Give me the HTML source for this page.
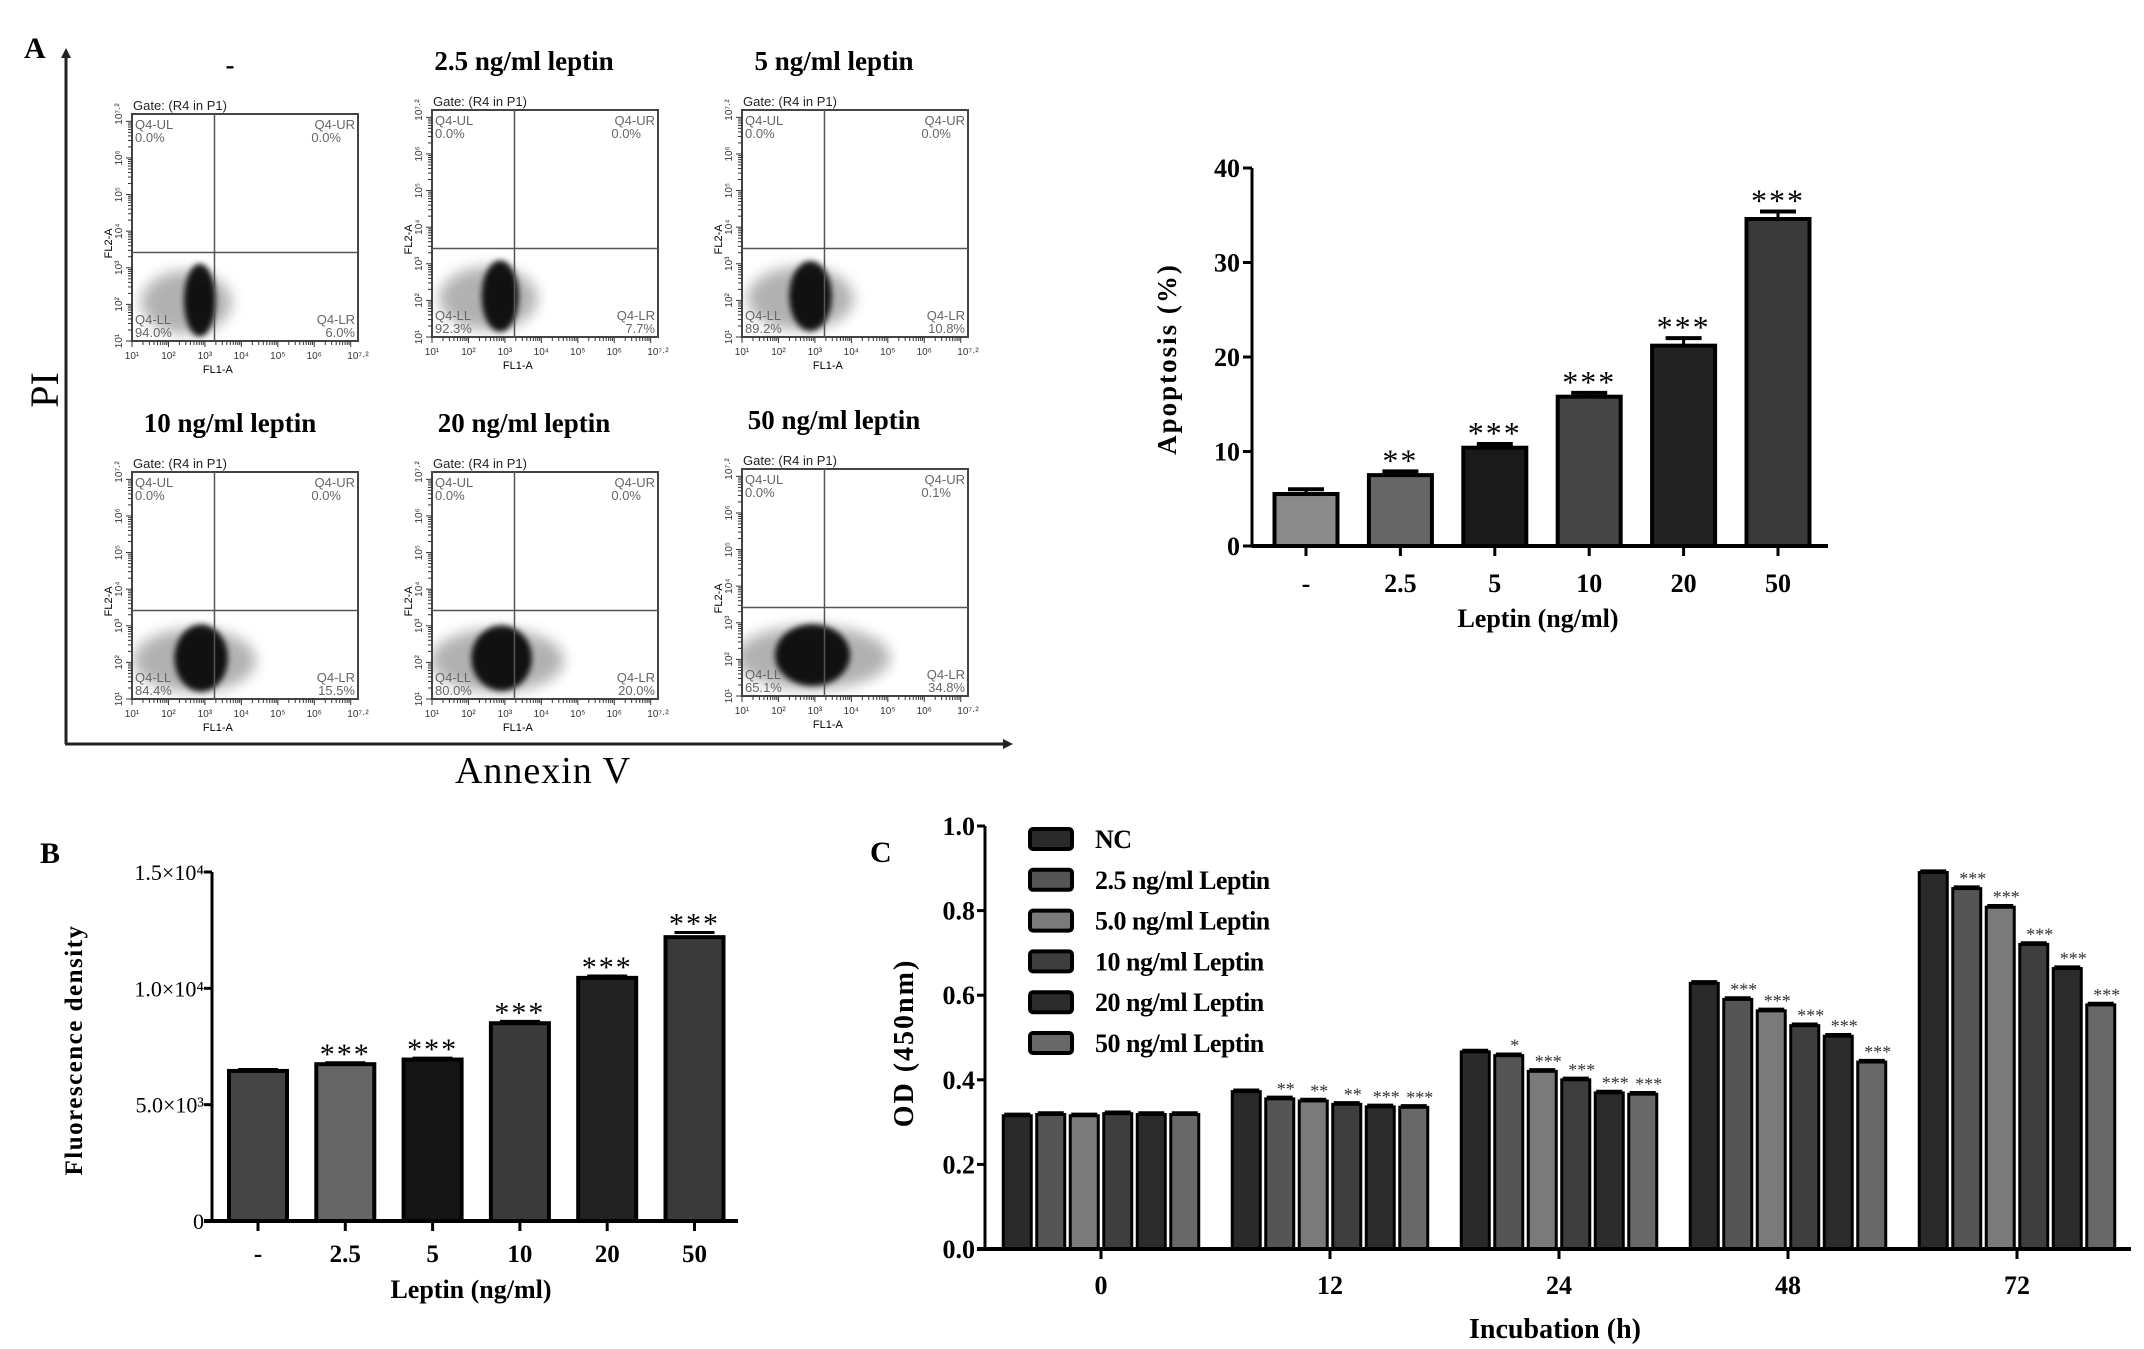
<!DOCTYPE html>
<html><head><meta charset="utf-8"><style>
html,body{margin:0;padding:0;background:#fff;}
svg{display:block;}
text{font-family:"Liberation Serif",serif;}
.sans{font-family:"Liberation Sans",sans-serif;}
</style></head>
<body>
<svg id="fig" xmlns="http://www.w3.org/2000/svg" width="2144" height="1349" viewBox="0 0 2144 1349">
<defs>
<filter id="blur3" x="-50%" y="-50%" width="200%" height="200%"><feGaussianBlur stdDeviation="3"/></filter>
<filter id="blur8" x="-50%" y="-50%" width="200%" height="200%"><feGaussianBlur stdDeviation="7"/></filter>
<marker id="arrowhead" markerWidth="10" markerHeight="10" refX="2" refY="5" orient="auto" markerUnits="userSpaceOnUse"><path d="M0,0 L10,5 L0,10 z" fill="#222"/></marker>
</defs>
</svg>
<script>
// ---------- Panel A (bar) data ----------
const aCats = ['-', '2.5', '5', '10', '20', '50'];
const aVals = [5.5, 7.5, 10.4, 15.8, 21.2, 34.6];
const aErrs = [0.5, 0.4, 0.4, 0.4, 0.8, 0.8];
const aSig = ['', '**', '***', '***', '***', '***'];
const aTicks = [0, 10, 20, 30, 40];
// ---------- Panel B data ----------
const bCats = ['-', '2.5', '5', '10', '20', '50'];
const bVals = [6450, 6740, 6940, 8500, 10450, 12200];
const bErrs = [60, 60, 60, 80, 80, 200];
const bSig = ['', '***', '***', '***', '***', '***'];
const bTicks = [0, 5000, 10000, 15000];
const bTickLabels = ['0', '5.0×10³', '1.0×10⁴', '1.5×10⁴'];
// ---------- Panel C data ----------
const cGroups = ['0', '12', '24', '48', '72'];
const cSeries = ['NC', '2.5 ng/ml Leptin', '5.0 ng/ml Leptin', '10 ng/ml Leptin', '20 ng/ml Leptin', '50 ng/ml Leptin'];
const cNC   = [0.315, 0.372, 0.466, 0.628, 0.890];
const c2_5  = [0.318, 0.355, 0.457, 0.590, 0.852];
const c5_0  = [0.315, 0.350, 0.420, 0.563, 0.808];
const c10   = [0.320, 0.342, 0.400, 0.528, 0.720];
const c20   = [0.318, 0.336, 0.369, 0.503, 0.663];
const c50   = [0.318, 0.335, 0.366, 0.442, 0.577];
const cSig12 = ['', '**', '**', '**', '***', '***'];
const cSig24 = ['', '*', '***', '***', '***', '***'];
const cSig48 = ['', '***', '***', '***', '***', '***'];
const cSig72 = ['', '***', '***', '***', '***', '***'];
const cTicks = [0, 0.2, 0.4, 0.6, 0.8, 1.0];
// ---------- Flow plots ----------
const flowTitles = ['-', '2.5 ng/ml leptin', '5 ng/ml leptin', '10 ng/ml leptin', '20 ng/ml leptin', '50 ng/ml leptin'];
const flowLL = ['94.0%', '92.3%', '89.2%', '84.4%', '80.0%', '65.1%'];
const flowLR = ['6.0%', '7.7%', '10.8%', '15.5%', '20.0%', '34.8%'];
const flowUR = ['0.0%', '0.0%', '0.0%', '0.0%', '0.0%', '0.1%'];
const flowSpread = [0.0, 0.03, 0.06, 0.12, 0.16, 0.24];

const NS = 'http://www.w3.org/2000/svg';
const svg = document.getElementById('fig');
function mk(tag, attrs, parent) {
  const e = document.createElementNS(NS, tag);
  for (const k in attrs) e.setAttribute(k, attrs[k]);
  (parent || svg).appendChild(e);
  return e;
}
function txt(s, attrs, parent) { const t = mk('text', attrs, parent); t.textContent = s; return t; }

// ===== Panel A: flow cytometry =====
let g = mk('g', {});


txt('A', {x: 24, y: 58, 'font-size': 30, 'font-weight': 'bold'}, g);

let ax = mk('line', {x1: 66, y1: 744, x2: 66, y2: 56, stroke: '#222', 'stroke-width': 3, 'marker-end': 'url(#arrowhead)'});


ax = mk('line', {x1: 65, y1: 744, x2: 1005, y2: 744, stroke: '#222', 'stroke-width': 3, 'marker-end': 'url(#arrowhead)'});


let t = txt('PI', {x: 0, y: 0, 'font-size': 40, transform: 'translate(58,390) rotate(-90)', 'text-anchor': 'middle'});


t = txt('Annexin V', {x: 543, y: 783, 'font-size': 38, 'text-anchor': 'middle', 'letter-spacing': 1});



const boxes = [[132,114],[432,110],[742,110],[132,472],[432,472],[742,469]];
const sup = ['¹','²','³','⁴','⁵','⁶','⁷·²'];
for (let i = 0; i < 6; i++) {
  const [x0, y0] = boxes[i];
  const w = 226, h = 227;
  const fg = mk('g', {});
  
  
  const tt = txt(flowTitles[i], {x: x0 + (i % 3 === 0 ? 98 : 92), y: y0 - 40, 'font-size': 27, 'font-weight': 'bold', 'text-anchor': 'middle'}, fg);
  
  
  txt('Gate: (R4 in P1)', {x: x0 + 1, y: y0 - 4, 'font-size': 13, class: 'sans', fill: '#222'}, fg);
  const gy = y0 + h * 0.61, vx = x0 + w * 0.365;
  const sp = flowSpread[i];
  mk('ellipse', {cx: x0 + w * (0.24 + sp * 0.3), cy: y0 + h * 0.83, rx: w * (0.2 + sp * 0.6), ry: h * 0.14, fill: '#000', opacity: 0.3, filter: 'url(#blur8)'}, fg);
  mk('ellipse', {cx: x0 + w * (0.30 + sp * 0.05), cy: y0 + h * 0.82, rx: w * (0.07 + sp * 0.4), ry: h * (0.16 - sp * 0.1), fill: '#000', opacity: 0.9, filter: 'url(#blur3)'}, fg);
  mk('rect', {x: x0 - 12, y: y0 + h, width: w + 30, height: 40, fill: '#fff'}, fg);
  mk('rect', {x: x0 - 40, y: y0, width: 40, height: h + 2, fill: '#fff'}, fg);
  const b = mk('rect', {x: x0, y: y0, width: w, height: h, fill: 'none', stroke: '#444', 'stroke-width': 2}, fg);
  
  
  mk('line', {x1: x0, y1: gy, x2: x0 + w, y2: gy, stroke: '#555', 'stroke-width': 1.5}, fg);
  mk('line', {x1: vx, y1: y0, x2: vx, y2: y0 + h, stroke: '#555', 'stroke-width': 1.5}, fg);
  for (let d = 0; d < 6.2; d++) {
    for (let m = 1; m < 10; m++) {
      const f = (d + Math.log10(m)) / 6.2;
      if (f > 1) break;
      const len = m === 1 ? 6 : 4;
      mk('line', {x1: x0 + f * w, y1: y0 + h, x2: x0 + f * w, y2: y0 + h + len, stroke: '#333', 'stroke-width': 1}, fg);
      mk('line', {x1: x0, y1: y0 + h - f * h, x2: x0 - len, y2: y0 + h - f * h, stroke: '#333', 'stroke-width': 1}, fg);
    }
  }
  for (let k = 0; k < 7; k++) {
    const f = k < 6 ? k / 6.2 : 1;
    txt('10' + sup[k], {x: x0 + f * w, y: y0 + h + 18, 'font-size': 10, class: 'sans', 'text-anchor': 'middle', fill: '#333'}, fg);
    txt('10' + sup[k], {x: 0, y: 0, 'font-size': 10, class: 'sans', 'text-anchor': 'middle', fill: '#333', transform: 'translate(' + (x0 - 10) + ',' + (y0 + h - f * h) + ') rotate(-90)'}, fg);
  }
  txt('FL1-A', {x: x0 + w * 0.38, y: y0 + h + 32, 'font-size': 11, class: 'sans', 'text-anchor': 'middle'}, fg);
  txt('FL2-A', {x: 0, y: 0, 'font-size': 11, class: 'sans', 'text-anchor': 'middle', transform: 'translate(' + (x0 - 20) + ',' + (y0 + h * 0.57) + ') rotate(-90)'}, fg);
  const qa = {'font-size': 13, class: 'sans', fill: '#666'};
  txt('Q4-UL', Object.assign({x: x0 + 3, y: y0 + 15}, qa), fg);
  txt('0.0%', Object.assign({x: x0 + 3, y: y0 + 28}, qa), fg);
  txt('Q4-UR', Object.assign({x: x0 + w - 3, y: y0 + 15, 'text-anchor': 'end'}, qa), fg);
  txt(flowUR[i], Object.assign({x: x0 + w - 17, y: y0 + 28, 'text-anchor': 'end'}, qa), fg);
  txt('Q4-LL', Object.assign({x: x0 + 3, y: y0 + h - 17}, qa), fg);
  txt(flowLL[i], Object.assign({x: x0 + 3, y: y0 + h - 4}, qa), fg);
  txt('Q4-LR', Object.assign({x: x0 + w - 3, y: y0 + h - 17, 'text-anchor': 'end'}, qa), fg);
  txt(flowLR[i], Object.assign({x: x0 + w - 3, y: y0 + h - 4, 'text-anchor': 'end'}, qa), fg);
}

function barRect(parent, x, y, w, h, fill, sw) {
  return mk('rect', {x: x, y: y, width: w, height: h, fill: fill, stroke: '#000', 'stroke-width': sw}, parent);
}

// ===== Panel A bar chart =====
const aX0 = 1252, aY0 = 546, aXEnd = 1828;
const aY = v => aY0 - v * (378 / 40);
const aXc = i => 1306 + i * 94.4;
const aColors = ['#8a8a8a', '#666', '#1a1a1a', '#454545', '#222', '#3a3a3a'];
g = mk('g', {});


for (let i = 0; i < aVals.length; i++) {
  const xc = aXc(i), bw = 63;
  const bar = barRect(g, xc - bw / 2, aY(aVals[i]), bw, aY0 - aY(aVals[i]), aColors[i], 4);
  
  
  mk('line', {x1: xc, y1: aY(aVals[i]), x2: xc, y2: aY(aVals[i] + aErrs[i]), stroke: '#000', 'stroke-width': 3}, g);
  mk('line', {x1: xc - 18, y1: aY(aVals[i] + aErrs[i]), x2: xc + 18, y2: aY(aVals[i] + aErrs[i]), stroke: '#000', 'stroke-width': 4}, g);
  if (aSig[i]) txt(aSig[i], {x: xc, y: aY(aVals[i] + aErrs[i]) + 14, 'font-size': 32, 'text-anchor': 'middle', 'letter-spacing': 2, transform: 'translate(0,-14)'}, g);
  mk('line', {x1: xc, y1: aY0, x2: xc, y2: aY0 + 10, stroke: '#000', 'stroke-width': 3}, g);
  txt(aCats[i], {x: xc, y: 592, 'font-size': 26, 'font-weight': 'bold', 'text-anchor': 'middle'}, g);
}
mk('line', {x1: aX0, y1: aY0, x2: aXEnd, y2: aY0, stroke: '#000', 'stroke-width': 4}, g);
mk('line', {x1: aX0, y1: aY(40), x2: aX0, y2: aY0, stroke: '#000', 'stroke-width': 3}, g);
for (const v of aTicks) {
  mk('line', {x1: aX0 - 9, y1: aY(v), x2: aX0, y2: aY(v), stroke: '#000', 'stroke-width': 3}, g);
  txt(String(v), {x: aX0 - 12, y: aY(v) + 9, 'font-size': 26, 'font-weight': 'bold', 'text-anchor': 'end'}, g);
}
t = txt('Apoptosis (%)', {x: 0, y: 0, 'font-size': 27, 'font-weight': 'bold', 'text-anchor': 'middle', 'letter-spacing': 2, transform: 'translate(1176,359) rotate(-90)'}, g);


t = txt('Leptin (ng/ml)', {x: 1538, y: 627, 'font-size': 26, 'font-weight': 'bold', 'text-anchor': 'middle'}, g);



// ===== Panel B =====
const bX0 = 212, bY0 = 1221, bXEnd = 738;
const bY = v => bY0 - v * (349 / 15000);
const bXc = i => 258 + i * 87.3;
const bColors = ['#444', '#666', '#151515', '#3a3a3a', '#222', '#3a3a3a'];
g = mk('g', {});


txt('B', {x: 40, y: 863, 'font-size': 30, 'font-weight': 'bold'}, g);
for (let i = 0; i < bVals.length; i++) {
  const xc = bXc(i), bw = 58;
  const bar = barRect(g, xc - bw / 2, bY(bVals[i]), bw, bY0 - bY(bVals[i]), bColors[i], 4);
  
  
  mk('line', {x1: xc - 20, y1: bY(bVals[i] + bErrs[i]), x2: xc + 20, y2: bY(bVals[i] + bErrs[i]), stroke: '#000', 'stroke-width': 3}, g);
  if (bSig[i]) txt(bSig[i], {x: xc, y: bY(bVals[i] + bErrs[i]) + 1, 'font-size': 30, 'text-anchor': 'middle', 'letter-spacing': 2}, g);
  mk('line', {x1: xc, y1: bY0, x2: xc, y2: bY0 + 10, stroke: '#000', 'stroke-width': 3}, g);
  txt(bCats[i], {x: xc, y: 1262, 'font-size': 25, 'font-weight': 'bold', 'text-anchor': 'middle'}, g);
}
mk('line', {x1: bX0 - 8, y1: bY0, x2: bXEnd, y2: bY0, stroke: '#000', 'stroke-width': 4}, g);
mk('line', {x1: bX0, y1: bY(15000), x2: bX0, y2: bY0, stroke: '#000', 'stroke-width': 3}, g);
for (let k = 0; k < bTicks.length; k++) {
  mk('line', {x1: bX0 - 8, y1: bY(bTicks[k]), x2: bX0, y2: bY(bTicks[k]), stroke: '#000', 'stroke-width': 3}, g);
  txt(bTickLabels[k], {x: bX0 - 8, y: bY(bTicks[k]) + 8, 'font-size': 22, 'text-anchor': 'end'}, g);
}
t = txt('Fluorescence density', {x: 0, y: 0, 'font-size': 25, 'font-weight': 'bold', 'text-anchor': 'middle', 'letter-spacing': 1.5, transform: 'translate(82,1050) rotate(-90)'}, g);


t = txt('Leptin (ng/ml)', {x: 471, y: 1298, 'font-size': 26, 'font-weight': 'bold', 'text-anchor': 'middle'}, g);



// ===== Panel C =====
const cX0 = 985, cY0 = 1249, cXEnd = 2131;
const cY = v => cY0 - v * 423;
const cGc = i => 1101 + i * 229;
const cVals = [cNC, c2_5, c5_0, c10, c20, c50];
const cSigs = [null, cSig12, cSig24, cSig48, cSig72];
const cColors = ['#2a2a2a', '#555', '#7a7a7a', '#3e3e3e', '#2c2c2c', '#686868'];
g = mk('g', {});


txt('C', {x: 870, y: 862, 'font-size': 30, 'font-weight': 'bold'}, g);
for (let gi = 0; gi < cGroups.length; gi++) {
  for (let s = 0; s < cSeries.length; s++) {
    const v = cVals[s][gi];
    const xc = cGc(gi) + (s - 2.5) * 33.5, bw = 28;
    const bar = barRect(g, xc - bw / 2, cY(v), bw, cY0 - cY(v), cColors[s], 3);
    
    
    mk('line', {x1: xc - 13, y1: cY(v + 0.004), x2: xc + 13, y2: cY(v + 0.004), stroke: '#000', 'stroke-width': 3}, g);
    const sg = cSigs[gi] ? cSigs[gi][s] : '';
    if (sg) txt(sg, {x: xc + 6, y: cY(v) - 4, 'font-size': 18, 'text-anchor': 'middle', fill: '#333'}, g);
  }
  mk('line', {x1: cGc(gi), y1: cY0, x2: cGc(gi), y2: cY0 + 10, stroke: '#000', 'stroke-width': 3}, g);
  txt(cGroups[gi], {x: cGc(gi), y: 1294, 'font-size': 26, 'font-weight': 'bold', 'text-anchor': 'middle'}, g);
}
mk('line', {x1: cX0 - 8, y1: cY0, x2: cXEnd, y2: cY0, stroke: '#000', 'stroke-width': 4}, g);
mk('line', {x1: cX0, y1: cY(1.0), x2: cX0, y2: cY0, stroke: '#000', 'stroke-width': 3}, g);
for (const v of cTicks) {
  mk('line', {x1: cX0 - 8, y1: cY(v), x2: cX0, y2: cY(v), stroke: '#000', 'stroke-width': 3}, g);
  txt(v.toFixed(1), {x: cX0 - 10, y: cY(v) + 9, 'font-size': 26, 'font-weight': 'bold', 'text-anchor': 'end'}, g);
}
t = txt('OD (450nm)', {x: 0, y: 0, 'font-size': 28, 'font-weight': 'bold', 'text-anchor': 'middle', 'letter-spacing': 2, transform: 'translate(913,1043) rotate(-90)'}, g);


t = txt('Incubation (h)', {x: 1555, y: 1338, 'font-size': 28, 'font-weight': 'bold', 'text-anchor': 'middle'}, g);


const lg = mk('g', {}, g);


for (let s = 0; s < cSeries.length; s++) {
  const ly = 839 + s * 40.8;
  const e = mk('g', {}, lg);
  
  
  mk('rect', {x: 1030, y: ly - 10, width: 42, height: 20, rx: 3, fill: cColors[s], stroke: '#000', 'stroke-width': 4}, e);
  txt(cSeries[s], {x: 1095, y: ly + 9, 'font-size': 26, 'font-weight': 'bold', 'letter-spacing': -0.5}, e);
}
</script>
</body></html>
